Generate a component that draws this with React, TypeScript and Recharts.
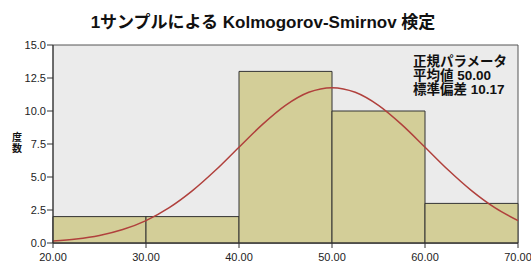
import React from 'react';
import { ComposedChart, Bar, Line, XAxis, YAxis, CartesianGrid, ReferenceArea, Customized } from 'recharts';

const binLabels = ['20-30', '30-40', '40-50', '50-60', '60-70'];
const binCounts = [2, 2, 13, 10, 3];
const curveX = [20, 22.5, 25, 27.5, 30, 32.5, 35, 37.5, 40, 42.5, 45, 47.5, 50, 52.5, 55, 57.5, 60, 62.5, 65, 67.5, 70];
const curveY = [0.15, 0.3, 0.57, 1.02, 1.7, 2.68, 3.97, 5.53, 7.26, 8.97, 10.43, 11.42, 11.77, 11.42, 10.43, 8.97, 7.26, 5.53, 3.97, 2.68, 1.7];
const xTicks = [20, 30, 40, 50, 60, 70];
const yTicks = [0, 2.5, 5, 7.5, 10, 12.5, 15];
const titleText = '1サンプルによる Kolmogorov-Smirnov 検定';
const yLabel = ['度', '数'];
const paramLines = ['正規パラメータ', '平均値 50.00', '標準偏差 10.17'];

const bars = binLabels.map((b, i) => ({ bin: b, count: binCounts[i] }));
const curve = curveX.map((x, i) => ({ x, y: curveY[i] }));

const FONT = '"Liberation Sans", Arial, "Noto Sans CJK JP", sans-serif';

const Overlay = () => (
  <g fontFamily={FONT}>
    <text x={263} y={28} textAnchor="middle" fontSize={17} fontWeight="bold" fill="#111">{titleText}</text>
    {yLabel.map((c, i) => (
      <text key={c} x={17} y={141 + i * 11} textAnchor="middle" fontSize={10} fontWeight="bold" fill="#111">{c}</text>
    ))}
    {paramLines.map((t, i) => (
      <text key={t} x={413} y={66 + i * 14} fontSize={13.5} fontWeight="bold" fill="#111">{t}</text>
    ))}
  </g>
);

const XTick = (props: any) => {
  const { x, y, payload } = props;
  return (
    <text x={x} y={y} dy={13} textAnchor="middle" fontSize={11} fill="#222" fontFamily={FONT}>
      {Number(payload.value).toFixed(2)}
    </text>
  );
};

export default function App() {
  return (
    <div style={{ position: 'absolute', left: 0, top: 0 }}>
      <ComposedChart
        width={531}
        height={263}
        data={bars}
        margin={{ top: 45, right: 13, bottom: 0, left: 0 }}
        barCategoryGap={0}
        barGap={0}
        style={{ fontFamily: FONT }}
      >
        <CartesianGrid fill="#ebebeb" horizontal={false} vertical={false} xAxisId="num" />
        <XAxis
          xAxisId="num"
          type="number"
          dataKey="x"
          domain={[20, 70]}
          ticks={xTicks}
          allowDataOverflow
          tick={<XTick />}
          tickSize={5}
          tickMargin={0}
          height={20}
          stroke="#333"
        />
        <XAxis xAxisId="cat" dataKey="bin" hide height={0} />
        <YAxis
          type="number"
          domain={[0, 15]}
          ticks={yTicks}
          tickFormatter={(v: number) => v.toFixed(1)}
          tick={{ fontSize: 11, fill: '#222' }}
          tickSize={6}
          tickMargin={1}
          width={53}
          stroke="#333"
        />
        <Bar xAxisId="cat" dataKey="count" fill="#d3ce98" stroke="#333" strokeWidth={1} isAnimationActive={false} />
        <Line
          xAxisId="num"
          data={curve}
          dataKey="y"
          type="monotone"
          stroke="#b0403c"
          strokeWidth={1.5}
          dot={false}
          activeDot={false}
          isAnimationActive={false}
        />
        <ReferenceArea xAxisId="num" x1={20} x2={70} y1={0} y2={15} fill="none" stroke="#555" strokeWidth={1} />
        <Customized component={Overlay} />
      </ComposedChart>
    </div>
  );
}
